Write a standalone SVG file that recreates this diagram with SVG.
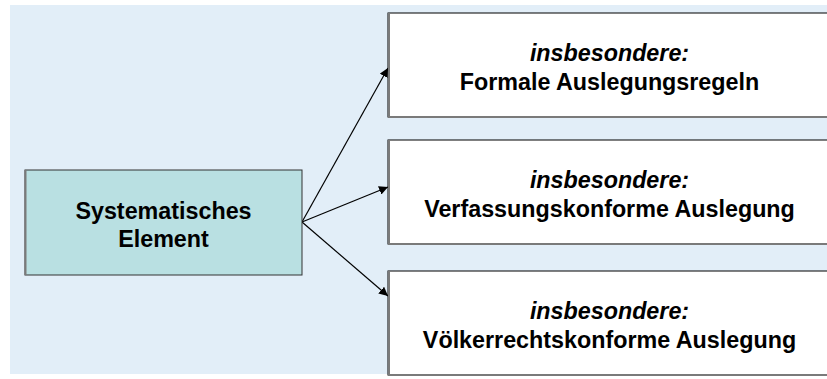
<svg xmlns="http://www.w3.org/2000/svg" width="827" height="379" viewBox="0 0 827 379">
<defs>
<marker id="ah" viewBox="0 0 10 10" refX="10" refY="5" markerWidth="9" markerHeight="9" markerUnits="userSpaceOnUse" orient="auto">
<path d="M0,0 L10,5 L0,10 z" fill="#000"/>
</marker>
</defs>
<style>
.box{fill:#fff;stroke:#000;stroke-width:1}
.shadow{fill:none;stroke:#7a7a7a;stroke-width:2}
.t{font-family:"Liberation Sans",Arial,sans-serif;font-size:23.3px;text-anchor:middle;fill:#000;font-weight:bold}
.i{font-style:italic}
.conn{stroke:#000;stroke-width:1.2;fill:none;marker-end:url(#ah)}
</style>
<rect x="0" y="0" width="827" height="379" fill="#fff"/>
<rect x="10" y="5" width="817" height="369" fill="#e2eef8"/>
<g id="connectors">
<line class="conn" x1="302" y1="222" x2="388" y2="68"/>
<line class="conn" x1="302" y1="222" x2="388" y2="187"/>
<line class="conn" x1="302" y1="222" x2="388" y2="296"/>
</g>
<g id="node-systematisch">
<rect x="25" y="170" width="277" height="105" fill="#b9e0e2" stroke="#333" stroke-width="1"/>
<path class="shadow" d="M25.5,170 V275"/>
<text class="t" x="163.5" y="219">Systematisches</text>
<text class="t" x="163.5" y="247">Element</text>
</g>
<g id="node-formal">
<rect class="box" x="388" y="13" width="450" height="104"/>
<path class="shadow" d="M389,13 V117 H838"/>
<text class="t i" x="609.5" y="61">insbesondere:</text>
<text class="t" x="609.5" y="90">Formale Auslegungsregeln</text>
</g>
<g id="node-verfassung">
<rect class="box" x="388" y="140" width="450" height="104"/>
<path class="shadow" d="M389,140 V244 H838"/>
<text class="t i" x="609.5" y="188">insbesondere:</text>
<text class="t" x="609.5" y="217">Verfassungskonforme Auslegung</text>
</g>
<g id="node-voelkerrecht">
<rect class="box" x="388" y="271" width="450" height="104"/>
<path class="shadow" d="M389,271 V375 H838"/>
<text class="t i" x="609.5" y="319">insbesondere:</text>
<text class="t" x="609.5" y="348">Völkerrechtskonforme Auslegung</text>
</g>
</svg>
